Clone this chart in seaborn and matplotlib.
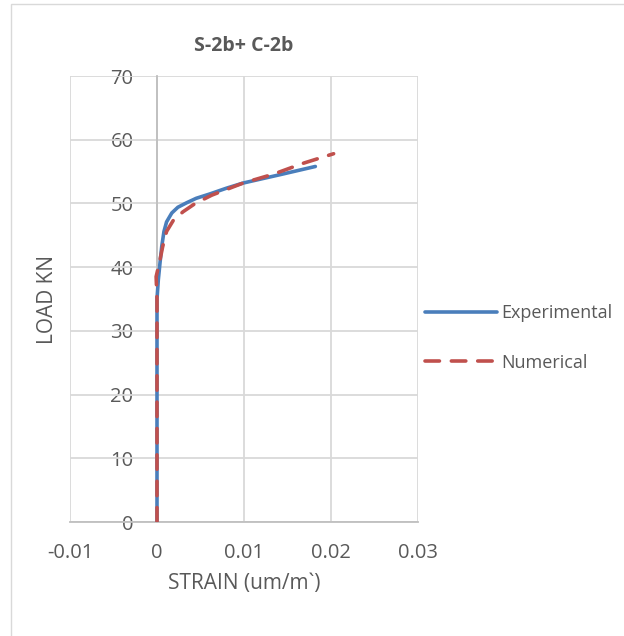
import matplotlib
matplotlib.use("Agg")
import matplotlib.pyplot as plt
import seaborn as sns
import pandas as pd
from matplotlib.patches import Rectangle

sns.set_theme(style="white")
plt.rcParams['font.family'] = ['Open Sans', 'DejaVu Sans']

exp_strain = [0, 0, 0, 0, 0, 0, 0, 0, 0.00015, 0.00034, 0.00054, 0.0008, 0.0011, 0.0017, 0.0024,
              0.0034, 0.0045, 0.0061, 0.0080, 0.0099, 0.0141, 0.0182]
exp_load = [0, 5, 10, 15, 20, 25, 30, 35, 38.0, 40.6, 43.2, 45.6, 47.1, 48.5, 49.4,
            50.1, 50.8, 51.5, 52.4, 53.2, 54.5, 55.8]
num_strain = [0, 0, 0, 0, 0, 0, 0, 0, -0.0001, 0.00034, 0.00065, 0.0011, 0.0019, 0.0030,
              0.0044, 0.0063, 0.0080, 0.0099, 0.0134, 0.0168, 0.0203]
num_load = [0, 5, 10, 15, 20, 25, 30, 35, 38.5, 41.1, 43.2, 45.6, 47.4, 48.7,
            50.0, 51.3, 52.2, 53.2, 54.6, 56.3, 57.8]

xticks = [-0.01, 0, 0.01, 0.02, 0.03]
xticklabels = ["-0.01", "0", "0.01", "0.02", "0.03"]
yticks = [0, 10, 20, 30, 40, 50, 60, 70]

title = "S-2b+ C-2b"
xlabel = "STRAIN (um/m`)"
ylabel = "LOAD KN"

text_c = "#595959"
grid_c = "#D9D9D9"

fig = plt.figure(figsize=(6.24, 6.36), dpi=100)
ax = fig.add_axes([70/624, 1-522/636, 348/624, 446/636])

fig.patches.append(Rectangle((11/624, -0.1), 1.2, 1-4/636+0.1, transform=fig.transFigure,
                             fill=False, edgecolor="#D9D9D9", linewidth=1.0, zorder=0))

df_e = pd.DataFrame({"strain": exp_strain, "load": exp_load})
df_n = pd.DataFrame({"strain": num_strain, "load": num_load})

sns.lineplot(data=df_e, x="strain", y="load", sort=False, estimator=None, ax=ax,
             color="#4A7EBB", linewidth=2.6, label="Experimental", zorder=3)
sns.lineplot(data=df_n, x="strain", y="load", sort=False, estimator=None, ax=ax,
             color="#C0504D", linewidth=2.6, label="Numerical", zorder=4)
for ln in ax.get_lines():
    ln.set_solid_joinstyle("round")
    ln.set_dash_joinstyle("round")
ln = ax.get_lines()[1]
ln.set_dashes((4, 3.3))
ln.set_dash_capstyle("round")

ax.set_xlim(-0.01, 0.03)
ax.set_ylim(0, 70)
ax.set_xticks(xticks)
ax.set_xticklabels(xticklabels)
ax.set_yticks(yticks)

for x in xticks:
    ax.axvline(x, color=grid_c, linewidth=1.3, zorder=1)
for y in yticks:
    ax.axhline(y, color=grid_c, linewidth=1.3, zorder=1)

for s in ["top", "right"]:
    ax.spines[s].set_visible(False)
ax.spines["left"].set_position(("data", 0))
ax.spines["left"].set_color("#BFBFBF")
ax.spines["left"].set_linewidth(1.3)
ax.spines["bottom"].set_color("#BFBFBF")
ax.spines["bottom"].set_linewidth(1.3)

ax.tick_params(axis="both", length=0, labelsize=14.5, colors=text_c)
ax.tick_params(axis="y", pad=17)
ax.tick_params(axis="x", pad=15)

ax.set_xlabel(xlabel, fontsize=15, color=text_c)
ax.set_ylabel(ylabel, fontsize=15, color=text_c)
ax.yaxis.set_label_coords(-0.035, 0.5)
ax.xaxis.set_label_coords(0.5, -0.115)
ax.set_title(title, fontsize=14, fontweight="bold", color=text_c, pad=18)

leg = ax.legend(loc="center left", bbox_to_anchor=(418/624, 1-338/636),
                bbox_transform=fig.transFigure, frameon=False, fontsize=13,
                handlelength=4.0, handletextpad=0.2, labelspacing=1.75, borderaxespad=0)
for t in leg.get_texts():
    t.set_color(text_c)
leg.get_lines()[1].set_dashes((4, 3.3))

fig.savefig("out.png", dpi=100)
